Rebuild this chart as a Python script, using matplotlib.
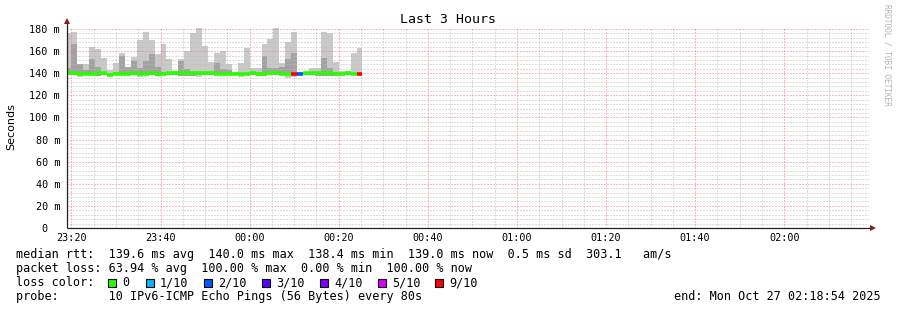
import matplotlib
matplotlib.use("Agg")
import matplotlib.pyplot as plt
from matplotlib.patches import Rectangle
import numpy as np

# ---------------- data ----------------
probe_step_s = 80            # "every 80s"
first_step = "23:18:40"      # start of first consolidated step
end_time = "02:18:54"
range_minutes = 180

smoke_max = [176.5, 177.5, 148.5, 148.0, 164.0, 161.5, 154.0, 142.7, 149.4, 158.7,
             146.0, 155.0, 170.0, 177.0, 170.0, 157.5, 166.0, 153.0, 142.0, 153.0,
             160.0, 176.0, 181.0, 165.0, 150.5, 158.0, 160.5, 148.0, 141.0, 149.5,
             163.0, 145.0, 145.0, 166.0, 171.0, 181.0, 149.5, 167.8, 177.0, 141.0,
             141.0, 145.0, 145.0, 177.0, 176.0, 150.0, 142.0, 142.0, 158.7, 163.0]
smoke_min = [138.8, 138.8, 137.0, 138.5, 138.5, 138.5, 138.5, 137.5, 138.5, 138.5,
             138.5, 138.5, 137.0, 138.5, 138.5, 138.5, 138.5, 138.5, 138.5, 138.5,
             138.5, 138.5, 137.0, 138.5, 138.5, 138.5, 138.5, 138.5, 138.5, 137.0,
             138.5, 138.5, 138.5, 138.5, 138.5, 138.5, 138.5, 136.0, 136.5, 138.5,
             138.5, 138.5, 138.5, 138.5, 138.5, 138.5, 138.5, 138.5, 138.5, 138.5]
dark_lo = [138.8, 138.8, 138.5, 138.5, 138.5, 137.5, 138.5, 137.5, 138.5, 138.5,
           138.5, 138.5, 138.5, 138.5, 138.5, 137.8, 138.5, 138.5, 138.5, 137.8,
           137.8, 137.8, 138.5, 138.5, 138.5, 138.5, 138.5, 138.5, 138.5, 138.5,
           138.5, 138.5, 137.5, 137.5, 138.5, 138.5, 138.5, 138.5, 138.5, 138.5,
           138.5, 138.5, 137.5, 137.5, 137.5, 138.5, 138.5, 138.5, 138.5, 138.5]
dark_hi = [145.0, 166.0, 148.0, 143.0, 153.0, 146.0, 141.0, 140.0, 141.0, 156.0,
           146.0, 151.5, 145.0, 151.5, 157.0, 145.5, 141.0, 141.0, 140.0, 151.0,
           144.0, 141.0, 141.0, 141.0, 141.0, 149.0, 143.6, 142.5, 140.0, 140.0,
           140.0, 141.0, 141.0, 156.0, 145.0, 145.0, 146.0, 153.0, 158.0, 140.0,
           140.0, 141.0, 141.0, 154.0, 145.0, 141.0, 140.0, 140.0, 140.0, 140.0]
median = [140.0, 140.0, 139.3, 139.5, 139.6, 139.9, 139.9, 138.4, 139.5, 139.6,
          139.6, 139.9, 139.5, 139.7, 139.9, 139.5, 139.5, 139.9, 139.8, 139.8,
          139.8, 139.8, 139.8, 139.8, 139.8, 139.6, 139.6, 139.6, 139.6, 139.6,
          139.6, 140.0, 139.6, 139.6, 139.8, 139.8, 139.6, 139.6, 139.0, 139.6,
          139.8, 139.8, 139.8, 139.8, 139.8, 139.6, 139.6, 139.8, 139.6, 139.0]
loss = [0] * 38 + [9, 2] + [0] * 9 + [9]

loss_levels = [0, 1, 2, 3, 4, 5, 9]
loss_labels = ["0", "1/10", "2/10", "3/10", "4/10", "5/10", "9/10"]
loss_colors = ["#26ff00", "#00b8ff", "#0059ff", "#5e00ff", "#7e00ff", "#dd00ff", "#ff0000"]

x_tick_labels = ["23:20", "23:40", "00:00", "00:20", "00:40", "01:00", "01:20", "01:40", "02:00"]
y_ticks = [0, 20, 40, 60, 80, 100, 120, 140, 160, 180]
y_tick_labels = ["0  ", "20 m", "40 m", "60 m", "80 m", "100 m", "120 m", "140 m", "160 m", "180 m"]

title = "Last 3 Hours"
y_label = "Seconds"
legend_rtt = "median rtt:  139.6 ms avg  140.0 ms max  138.4 ms min  139.0 ms now  0.5 ms sd  303.1   am/s"
legend_loss = "packet loss: 63.94 % avg  100.00 % max  0.00 % min  100.00 % now"
legend_color = "loss color:"
legend_probe = "probe:       10 IPv6-ICMP Echo Pings (56 Bytes) every 80s"
legend_end = "end: Mon Oct 27 02:18:54 2025"
watermark = "RRDTOOL / TOBI OETIKER"


def minutes_since_2300(s):
    parts = [int(p) for p in s.split(":")]
    m = parts[0] * 60 + parts[1] + (parts[2] / 60 if len(parts) > 2 else 0)
    return (m - 23 * 60) % (24 * 60)


plt.rcParams["lines.scale_dashes"] = False

# ---------------- figure ----------------
W, H = 897, 310
fig = plt.figure(figsize=(W / 100, H / 100), dpi=100)
fig.patch.set_facecolor("white")

def fx(x):
    return x / W

def fy(y):
    return 1 - y / H

left_px, right_px, top_px, bot_px = 66.5, 868.5, 26.8, 228.0
ax = fig.add_axes([fx(left_px), fy(bot_px), (right_px - left_px) / W, (bot_px - top_px) / H])

step_min = probe_step_s / 60.0
t0 = minutes_since_2300(first_step)
starts = t0 + step_min * np.arange(len(median))

smoke_max = np.array(smoke_max)
smoke_min = np.array(smoke_min)
dark_lo = np.array(dark_lo)
dark_hi = np.array(dark_hi)

ax.bar(starts, smoke_max - smoke_min, bottom=smoke_min, width=step_min, align="edge",
       color="#c9c9c9", linewidth=0, zorder=1)
ax.bar(starts, dark_hi - dark_lo, bottom=dark_lo, width=step_min, align="edge",
       color="#a2a2a2", linewidth=0, zorder=1.1)

cmap = dict(zip(loss_levels, loss_colors))
ax.hlines(median, starts, starts + step_min, colors=[cmap[l] for l in loss],
          linewidth=2.6, zorder=3)

x_end = minutes_since_2300(end_time)
ax.set_xlim(x_end - range_minutes, x_end)
ax.set_ylim(0, 182)

xt = [minutes_since_2300(s) for s in x_tick_labels]
ax.set_xticks(xt)
ax.set_xticklabels(x_tick_labels, family="DejaVu Sans Mono", fontsize=7.3)
ax.set_xticks(np.arange(20, 200, 5), minor=True)
ax.set_yticks(y_ticks)
ax.set_yticklabels(y_tick_labels, family="DejaVu Sans Mono", fontsize=7.3)
ax.set_yticks(np.arange(0, 182, 4), minor=True)
ax.tick_params(which="both", length=0)
ax.tick_params(axis="y", pad=4.6)
ax.tick_params(axis="x", pad=3.5)

ax.set_axisbelow(False)
dots = (0, (0.72, 1.44))
ax.grid(which="minor", color="#bdbdbd", linestyle=dots, linewidth=0.72)
ax.grid(which="major", color="#f07c7c", linestyle=dots, linewidth=0.72)
for axis in (ax.xaxis, ax.yaxis):
    for tk in axis.get_major_ticks() + axis.get_minor_ticks():
        tk.gridline.set_zorder(2)
        tk.gridline.set_snap(True)

for s in ax.spines.values():
    s.set_visible(False)

# axis lines with arrows
ax.plot([0, 0], [0, 1.028], transform=ax.transAxes, color="#222222", lw=0.9,
        clip_on=False, zorder=5, solid_capstyle="butt")
ax.plot([0, 1.004], [0, 0], transform=ax.transAxes, color="#222222", lw=0.9,
        clip_on=False, zorder=5, solid_capstyle="butt")
ax.plot([0], [1.03], marker="^", color="#8b1a1a", ms=4.5, transform=ax.transAxes,
        clip_on=False, zorder=6, markeredgewidth=0)
ax.plot([1.006], [0], marker=">", color="#8b1a1a", ms=4.5, transform=ax.transAxes,
        clip_on=False, zorder=6, markeredgewidth=0)

mono = "DejaVu Sans Mono"
fig.text(fx(448), fy(19.5), title, ha="center", va="center", family=mono, fontsize=9.5)
fig.text(fx(11), fy(127), y_label, ha="center", va="center", rotation=90,
         family="DejaVu Sans", fontsize=8)
fig.text(fx(886.5), fy(4), watermark, ha="center", va="top", rotation=270,
         family=mono, fontsize=5.6, color="#b4b4b4")

fs = 8.5
fig.text(fx(16), fy(254.5), legend_rtt, ha="left", va="center", family=mono, fontsize=fs)
fig.text(fx(16), fy(268.5), legend_loss, ha="left", va="center", family=mono, fontsize=fs)
fig.text(fx(16), fy(282.5), legend_color, ha="left", va="center", family=mono, fontsize=fs)
fig.text(fx(16), fy(296.5), legend_probe, ha="left", va="center", family=mono, fontsize=fs)
fig.text(fx(881), fy(296.5), legend_end, ha="right", va="center", family=mono, fontsize=fs)

sq_x = [108, 146, 204, 262, 320, 378, 435]
for i, (lab, col) in enumerate(zip(loss_labels, loss_colors)):
    x0 = sq_x[i]
    fig.patches.append(Rectangle((fx(x0), fy(286.5)), 8 / W, 8 / H, transform=fig.transFigure,
                                 facecolor=col, edgecolor="black", linewidth=0.8))
    fig.text(fx(x0 + 14), fy(282.5), lab, ha="left", va="center", family=mono, fontsize=fs)

fig.savefig("out.png", dpi=100)
